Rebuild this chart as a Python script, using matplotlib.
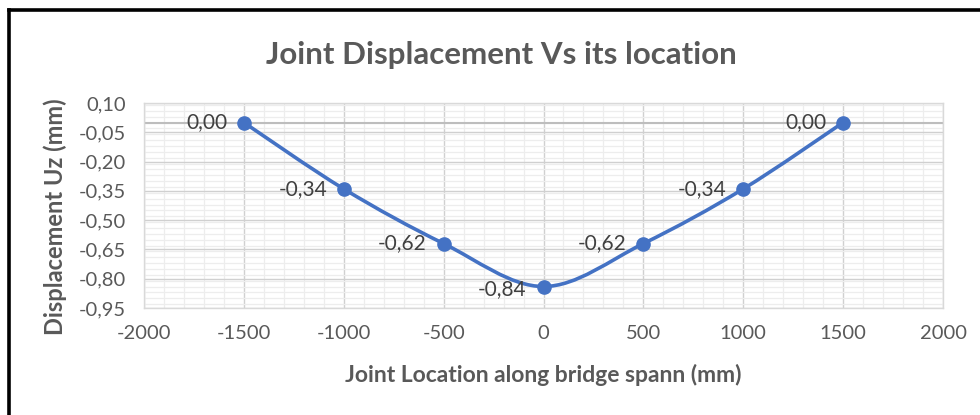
import matplotlib
matplotlib.use("Agg")
import matplotlib.pyplot as plt
from matplotlib.path import Path
from matplotlib.patches import PathPatch
from matplotlib.lines import Line2D
from matplotlib.ticker import MultipleLocator, FixedLocator
import numpy as np

# ---- data ----
x_loc = [-1500, -1000, -500, 0, 500, 1000, 1500]
uz = [0.00, -0.34, -0.62, -0.84, -0.62, -0.34, 0.00]
point_labels = ["0,00", "-0,34", "-0,62", "-0,84", "-0,62", "-0,34", "0,00"]
x_ticks = [-2000, -1500, -1000, -500, 0, 500, 1000, 1500, 2000]
y_ticks = [0.10, -0.05, -0.20, -0.35, -0.50, -0.65, -0.80, -0.95]
y_tick_labels = ["0,10", "-0,05", "-0,20", "-0,35", "-0,50", "-0,65", "-0,80", "-0,95"]

title = "Joint Displacement Vs its location"
xlabel = "Joint Location along bridge spann (mm)"
ylabel = "Displacement Uz (mm)"

plt.rcParams['font.family'] = ['Lato', 'DejaVu Sans']

fig = plt.figure(figsize=(9.8, 4.15), dpi=100)
fig.patch.set_facecolor("white")
ax = fig.add_axes([144/980, (415-308)/415, (943-144)/980, (308-103)/415])

ax.set_xlim(-2000, 2000)
ax.set_ylim(-0.95, 0.10)

ax.xaxis.set_major_locator(FixedLocator(x_ticks))
ax.xaxis.set_minor_locator(MultipleLocator(100))
ax.yaxis.set_major_locator(FixedLocator(y_ticks))
ax.yaxis.set_minor_locator(MultipleLocator(0.03))
ax.set_xticklabels([str(t) for t in x_ticks])
ax.set_yticklabels(y_tick_labels)

ax.grid(which="minor", color="#EDEDED", linewidth=0.9, zorder=0)
ax.grid(which="major", color="#D0D0D0", linewidth=1.0, zorder=0.5)
ax.axhline(0, color="#BDBDBD", linewidth=1.5, zorder=0.8)
ax.set_axisbelow(True)

ax.tick_params(which="both", length=0)
ax.tick_params(axis="both", labelsize=14.5, labelcolor="#595959")
ax.tick_params(axis="y", pad=13)
ax.tick_params(axis="x", pad=12)
for s in ax.spines.values():
    s.set_color("#D9D9D9")
    s.set_linewidth(1.0)

# smoothed line (Excel-like Bezier through the data points)
pts = np.column_stack([x_loc, uz]).astype(float)
ext = np.vstack([pts[0], pts, pts[-1]])
verts = [tuple(pts[0])]
codes = [Path.MOVETO]
for i in range(len(pts) - 1):
    p0, p1, p2, p3 = ext[i], ext[i + 1], ext[i + 2], ext[i + 3]
    c1 = p1 + (p2 - p0) / 6.0
    c2 = p2 - (p3 - p1) / 6.0
    verts += [tuple(c1), tuple(c2), tuple(p2)]
    codes += [Path.CURVE4] * 3
ax.add_patch(PathPatch(Path(verts, codes), facecolor="none", edgecolor="#4472C4",
                       linewidth=2.6, zorder=3, capstyle="round", joinstyle="round"))
ax.plot(x_loc, uz, linestyle="none", marker="o", markersize=9.5,
        color="#4472C4", zorder=4)

for xv, yv, lab in zip(x_loc, uz, point_labels):
    dy = -2 if xv == 0 else 0
    ax.annotate(lab, (xv, yv), xytext=(-12, dy), textcoords="offset points",
                ha="right", va="center", fontsize=15, color="#404040", zorder=5)

fig.text(501/980, 1 - 55/415, title, fontsize=22.5, fontweight="bold",
         color="#595959", ha="center", va="center")
ax.set_xlabel(xlabel, fontsize=16.5, fontweight="bold", color="#595959", labelpad=16)
ax.set_ylabel(ylabel, fontsize=17, fontweight="bold", color="#595959")
ax.yaxis.set_label_coords((67 - 144) / (943 - 144), (308 - 217) / (308 - 103))

# outer frame (left and top edges)
fig.add_artist(Line2D([8.5/980, 8.5/980], [0, 1 - 10.5/415], transform=fig.transFigure,
                      color="black", linewidth=2.6, solid_capstyle="projecting"))
fig.add_artist(Line2D([8.5/980, 1], [1 - 10.5/415, 1 - 10.5/415], transform=fig.transFigure,
                      color="black", linewidth=2.6, solid_capstyle="projecting"))

fig.savefig("out.png", dpi=100, facecolor="white")
